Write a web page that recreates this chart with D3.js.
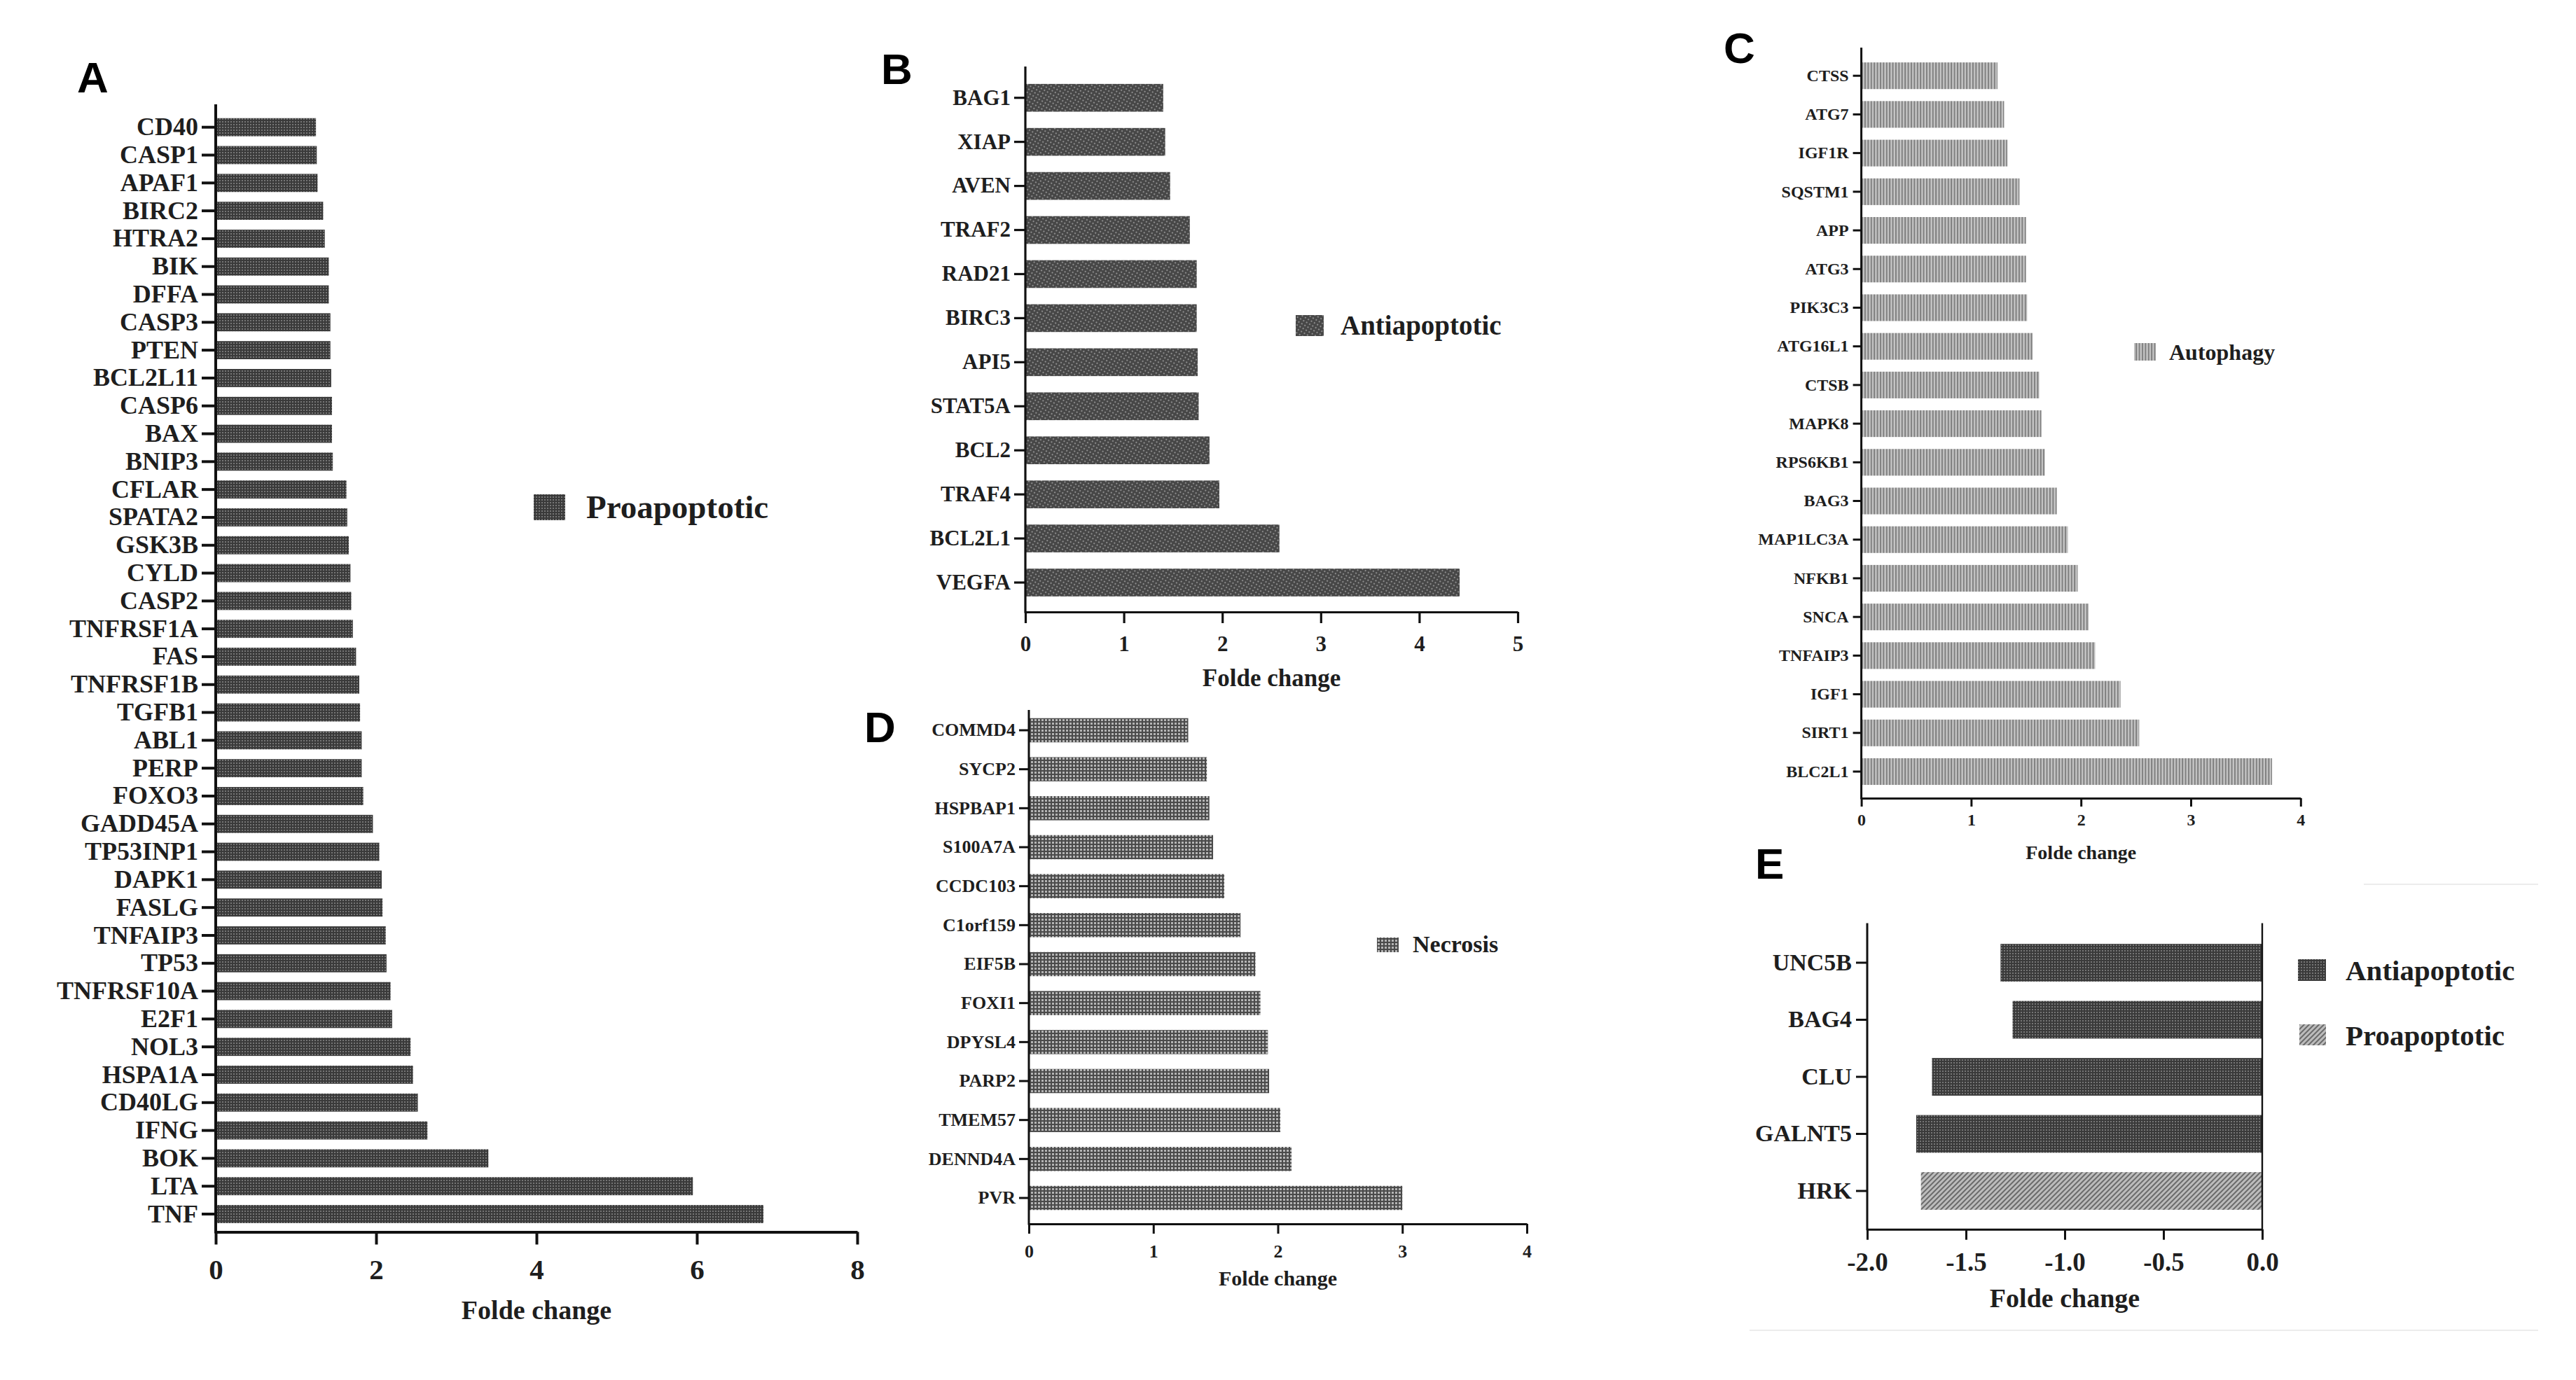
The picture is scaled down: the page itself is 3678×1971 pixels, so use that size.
<!DOCTYPE html>
<html><head><meta charset="utf-8">
<script src="https://cdn.jsdelivr.net/npm/d3@7"></script>
<style>body{margin:0;background:#fff}</style>
</head><body>
<svg id="chart" width="3678" height="1971"></svg>
<script>
// ---------- DATA ----------
const proGenes = ["CD40","CASP1","APAF1","BIRC2","HTRA2","BIK","DFFA","CASP3","PTEN","BCL2L11","CASP6","BAX","BNIP3","CFLAR","SPATA2","GSK3B","CYLD","CASP2","TNFRSF1A","FAS","TNFRSF1B","TGFB1","ABL1","PERP","FOXO3","GADD45A","TP53INP1","DAPK1","FASLG","TNFAIP3","TP53","TNFRSF10A","E2F1","NOL3","HSPA1A","CD40LG","IFNG","BOK","LTA","TNF"];
const proValues = [1.25,1.26,1.27,1.34,1.36,1.41,1.41,1.43,1.43,1.44,1.45,1.45,1.46,1.63,1.64,1.66,1.68,1.69,1.71,1.75,1.79,1.80,1.82,1.82,1.84,1.96,2.04,2.07,2.08,2.12,2.13,2.18,2.20,2.43,2.46,2.52,2.64,3.40,5.95,6.83];

const antiGenes = ["BAG1","XIAP","AVEN","TRAF2","RAD21","BIRC3","API5","STAT5A","BCL2","TRAF4","BCL2L1","VEGFA"];
const antiValues = [1.40,1.42,1.47,1.67,1.74,1.74,1.75,1.76,1.87,1.97,2.58,4.41];

const autoGenes = ["CTSS","ATG7","IGF1R","SQSTM1","APP","ATG3","PIK3C3","ATG16L1","CTSB","MAPK8","RPS6KB1","BAG3","MAP1LC3A","NFKB1","SNCA","TNFAIP3","IGF1","SIRT1","BLC2L1"];
const autoValues = [1.24,1.30,1.33,1.44,1.50,1.50,1.51,1.56,1.62,1.64,1.67,1.78,1.88,1.97,2.07,2.13,2.36,2.53,3.74];

const necGenes = ["COMMD4","SYCP2","HSPBAP1","S100A7A","CCDC103","C1orf159","EIF5B","FOXI1","DPYSL4","PARP2","TMEM57","DENND4A","PVR"];
const necValues = [1.28,1.43,1.45,1.48,1.57,1.70,1.82,1.86,1.92,1.93,2.02,2.11,3.00];

const downGenes = ["UNC5B","BAG4","CLU","GALNT5","HRK"];
const downValues = [-1.325,-1.264,-1.672,-1.752,-1.728];
const downGroups = ["Antiapoptotic","Antiapoptotic","Antiapoptotic","Antiapoptotic","Proapoptotic"];

const ticksA = [0,2,4,6,8];
const ticksB = [0,1,2,3,4,5];
const ticksC = [0,1,2,3,4];
const ticksD = [0,1,2,3,4];
const ticksE = [-2,-1.5,-1,-0.5,0];
const tickLabelsE = ["-2.0","-1.5","-1.0","-0.5","0.0"];
const axisTitle = "Folde change";
const legendA = ["Proapoptotic"];
const legendB = ["Antiapoptotic"];
const legendC = ["Autophagy"];
const legendD = ["Necrosis"];
const legendE = ["Antiapoptotic","Proapoptotic"];

// ---------- DRAWING ----------
const svg = d3.select("#chart");
svg.append("rect").attr("width",3678).attr("height",1971).attr("fill","#fff");
const defs = svg.append("defs");

function pat(id, w, h, bg, build, transform){
  const p = defs.append("pattern").attr("id",id).attr("patternUnits","userSpaceOnUse")
    .attr("width",w).attr("height",h);
  if (transform) p.attr("patternTransform",transform);
  p.append("rect").attr("width",w).attr("height",h).attr("fill",bg);
  build(p);
}
pat("pDots",4,4,"#3a3a3a",p=>{p.append("circle").attr("cx",2).attr("cy",2).attr("r",1).attr("fill","#8a8a8a");});
pat("pDotsB",5,5,"#474747",p=>{p.append("rect").attr("x",0).attr("y",0).attr("width",2).attr("height",2).attr("fill","#8c8c8c");}, "rotate(30)");
pat("pStripes",4.4,10,"#c6c6c6",p=>{p.append("rect").attr("x",0).attr("width",2).attr("height",10).attr("fill","#7e7e7e");});
pat("pGrid",5,5,"#b4b4b4",p=>{
  p.append("rect").attr("x",0).attr("y",0).attr("width",2).attr("height",5).attr("fill","#4a4a4a");
  p.append("rect").attr("x",0).attr("y",0).attr("width",5).attr("height",2).attr("fill","#4a4a4a");});
pat("pDiag",5,5,"#bcbcbc",p=>{p.append("rect").attr("width",2).attr("height",5).attr("fill","#6a6a6a");}, "rotate(45)");

const serif = "'Liberation Serif','Times New Roman',serif";
const sans = "'Liberation Sans',Arial,sans-serif";

const panels = [
 {letter:"A", lx:110, ly:132, genes:proGenes, values:proValues, fills:proGenes.map(()=> "url(#pDots)"),
  legend:legendA, legFill:["url(#pDots)"], leg:[{x:762,y:706,w:45,h:37,tx:837,ty:740}], legFs:47,
  x0:308, x1:1224, domain:[0,8], ticks:ticksA, tickLabels:ticksA.map(String),
  yTop:149, yAxis:1759.5, c0:181.7, c1:1734, ratio:0.65,
  labelFs:36, yTick:20, yPad:5, tickFs:41, xTick:18, xPad:20, titleFs:38, titleY:1884, axisW:4},
 {letter:"B", lx:1258, ly:120, genes:antiGenes, values:antiValues, fills:antiGenes.map(()=> "url(#pDotsB)"),
  legend:legendB, legFill:["url(#pDotsB)"], leg:[{x:1850,y:450,w:40,h:30,tx:1914,ty:478}], legFs:39,
  x0:1464, x1:2167, domain:[0,5], ticks:ticksB, tickLabels:ticksB.map(String),
  yTop:95, yAxis:874, c0:139.7, c1:832, ratio:0.63,
  labelFs:31, yTick:16, yPad:5, tickFs:31, xTick:16, xPad:18, titleFs:35, titleY:980, axisW:3.2},
 {letter:"C", lx:2461, ly:90, genes:autoGenes, values:autoValues, fills:autoGenes.map(()=> "url(#pStripes)"),
  legend:legendC, legFill:["url(#pStripes)"], leg:[{x:3047,y:490,w:31,h:25,tx:3097,ty:514}], legFs:32,
  x0:2657.6, x1:3284.8, domain:[0,4], ticks:ticksC, tickLabels:ticksC.map(String),
  yTop:68, yAxis:1140, c0:108.2, c1:1102, ratio:0.69,
  labelFs:24, yTick:12, yPad:6, tickFs:24, xTick:12, xPad:10, titleFs:28, titleY:1227, axisW:3},
 {letter:"D", lx:1234, ly:1060, genes:necGenes, values:necValues, fills:necGenes.map(()=> "url(#pGrid)"),
  legend:legendD, legFill:["url(#pGrid)"], leg:[{x:1966,y:1339,w:31,h:21,tx:2017,ty:1360}], legFs:34,
  x0:1469, x1:2180, domain:[0,4], ticks:ticksD, tickLabels:ticksD.map(String),
  yTop:1014, yAxis:1748, c0:1043, c1:1711, ratio:0.62,
  labelFs:26, yTick:14, yPad:5, tickFs:26, xTick:14, xPad:16, titleFs:30, titleY:1836, axisW:3},
 {letter:"E", lx:2506, ly:1255, genes:downGenes, values:downValues,
  fills:downGroups.map(g=> g==="Proapoptotic" ? "url(#pDiag)" : "url(#pDots)"),
  legend:legendE, legFill:["url(#pDots)","url(#pDiag)"],
  leg:[{x:3281,y:1370,w:40,h:31,tx:3349,ty:1400},{x:3283,y:1463,w:38,h:30,tx:3349,ty:1493}], legFs:41,
  x0:2666, x1:3230, domain:[-2,0], ticks:ticksE, tickLabels:tickLabelsE, zeroLine:true,
  yTop:1318.6, yAxis:1755.7, c0:1375, c1:1701, ratio:0.66,
  labelFs:34, yTick:16, yPad:6, tickFs:37, xTick:15, xPad:18, titleFs:38, titleY:1867, axisW:3}
];

panels.forEach(cfg=>{
  const g = svg.append("g");
  const n = cfg.genes.length;
  const step = (cfg.c1 - cfg.c0)/(n-1);
  const pi = 1 - cfg.ratio;
  const y = d3.scaleBand().domain(cfg.genes)
     .range([cfg.c0 - step/2, cfg.c1 + step/2]).paddingInner(pi).paddingOuter(pi/2);
  const x = d3.scaleLinear().domain(cfg.domain).range([cfg.x0, cfg.x1]);

  // bars
  g.selectAll("rect.bar").data(cfg.genes).join("rect").attr("class","bar")
    .attr("x",(d,i)=>Math.min(x(0), x(cfg.values[i])))
    .attr("width",(d,i)=>Math.abs(x(cfg.values[i]) - x(0)))
    .attr("y",d=>y(d)).attr("height",y.bandwidth())
    .attr("fill",(d,i)=>cfg.fills[i]);

  // y axis
  const ya = g.append("g").attr("transform",`translate(${cfg.x0},0)`)
    .call(d3.axisLeft(y).tickSize(cfg.yTick).tickPadding(cfg.yPad).tickSizeOuter(0));
  ya.select(".domain").remove();
  ya.selectAll(".tick line").attr("stroke","#111").attr("stroke-width",cfg.axisW);
  ya.selectAll(".tick text").attr("font-family",serif).attr("font-weight","bold")
    .attr("font-size",cfg.labelFs).attr("fill","#1e1e1e");
  g.append("line").attr("x1",cfg.x0).attr("x2",cfg.x0).attr("y1",cfg.yTop).attr("y2",cfg.yAxis+cfg.axisW/2)
    .attr("stroke","#111").attr("stroke-width",cfg.axisW);
  if (cfg.zeroLine){
    g.append("line").attr("x1",x(0)).attr("x2",x(0)).attr("y1",cfg.yTop).attr("y2",cfg.yAxis)
      .attr("stroke","#111").attr("stroke-width",cfg.axisW*0.8);
  }

  // x axis
  const xa = g.append("g").attr("transform",`translate(0,${cfg.yAxis})`)
    .call(d3.axisBottom(x).tickValues(cfg.ticks).tickSize(cfg.xTick).tickPadding(cfg.xPad)
      .tickSizeOuter(0).tickFormat((d,i)=>cfg.tickLabels[i]));
  xa.select(".domain").attr("stroke","#111").attr("stroke-width",cfg.axisW);
  xa.selectAll(".tick line").attr("stroke","#111").attr("stroke-width",cfg.axisW);
  xa.selectAll(".tick text").attr("font-family",serif).attr("font-weight","bold")
    .attr("font-size",cfg.tickFs).attr("fill","#1e1e1e");

  // axis title
  g.append("text").attr("x",(cfg.x0+cfg.x1)/2).attr("y",cfg.titleY).attr("text-anchor","middle")
    .attr("font-family",serif).attr("font-weight","bold").attr("font-size",cfg.titleFs)
    .attr("fill","#1e1e1e").text(axisTitle);

  // legend
  cfg.legend.forEach((name,i)=>{
    const L = cfg.leg[i];
    g.append("rect").attr("x",L.x).attr("y",L.y).attr("width",L.w).attr("height",L.h).attr("fill",cfg.legFill[i]);
    g.append("text").attr("x",L.tx).attr("y",L.ty).attr("font-family",serif).attr("font-weight","bold")
      .attr("font-size",cfg.legFs).attr("fill","#1e1e1e").text(name);
  });

  // panel letter
  g.append("text").attr("x",cfg.lx).attr("y",cfg.ly).attr("font-family",sans).attr("font-weight","bold")
    .attr("font-size",62).attr("fill","#000").text(cfg.letter);
});

// faint panel border remnants around E
svg.append("line").attr("x1",3375).attr("x2",3624).attr("y1",1263).attr("y2",1263).attr("stroke","#ececec").attr("stroke-width",2);
svg.append("line").attr("x1",2498).attr("x2",3624).attr("y1",1900).attr("y2",1900).attr("stroke","#ececec").attr("stroke-width",2);
</script>
</body></html>
